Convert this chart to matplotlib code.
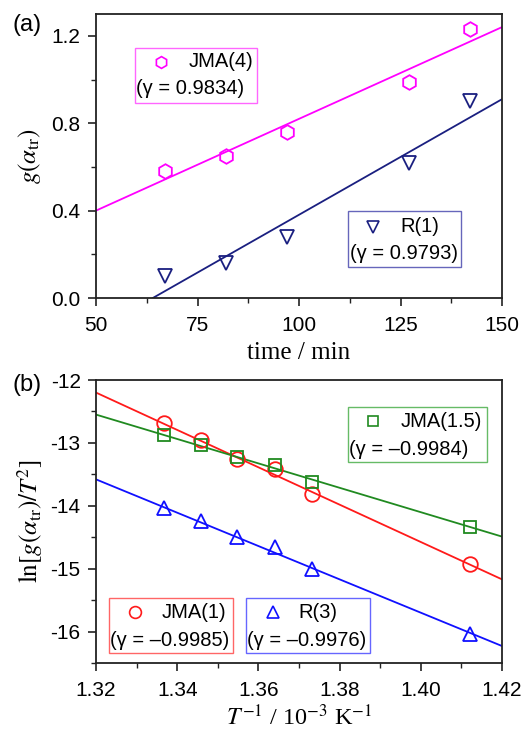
import matplotlib
matplotlib.use("Agg")
import matplotlib.pyplot as plt
from matplotlib.patches import Rectangle
from matplotlib.ticker import MultipleLocator, FormatStrFormatter

plt.rcParams['font.family'] = ['Liberation Sans', 'DejaVu Sans']
plt.rcParams['mathtext.fontset'] = 'stix'
plt.rcParams['axes.unicode_minus'] = False

# ---- Panel (a) data ----
time_min = [67, 82, 97, 127, 142]
jma4 = [0.58, 0.65, 0.76, 0.99, 1.23]
r1 = [0.10, 0.16, 0.28, 0.62, 0.90]
jma4_fit_x = [50, 150]
jma4_fit_y = [0.40, 1.24]
r1_fit_x = [64, 150]
r1_fit_y = [0.0, 0.91]

# ---- Panel (b) data ----
inv_T = [1.3367, 1.3458, 1.3548, 1.3640, 1.3732, 1.4122]
jma1 = [-12.68, -12.95, -13.25, -13.42, -13.82, -14.93]
jma15 = [-12.87, -13.04, -13.22, -13.35, -13.62, -14.33]
r3 = [-14.04, -14.25, -14.50, -14.65, -15.00, -16.04]
fit_x_b = [1.32, 1.42]
jma1_fit_y = [-12.20, -15.17]
jma15_fit_y = [-12.55, -14.49]
r3_fit_y = [-13.58, -16.23]

MAG = '#FF00FF'
NAVY = '#1A1F80'
RED = '#FF1A1A'
GREEN = '#208A20'
BLUE = '#1010FF'

W, H = 521, 732
fig = plt.figure(figsize=(W / 100, H / 100), dpi=100)

def px_axes(l, t, r, b):
    return fig.add_axes([l / W, 1 - b / H, (r - l) / W, (b - t) / H])

axA = px_axes(96, 14, 502, 298)
axB = px_axes(96, 380, 502, 663)

def style(ax):
    for s in ax.spines.values():
        s.set_linewidth(1.3)
        s.set_color('#222222')
    ax.tick_params(which='major', direction='out', length=6, width=1.2,
                   labelsize=15, top=False, right=False, color='#222222', pad=5)
    ax.tick_params(which='minor', direction='out', length=3.5, width=1.0,
                   top=False, right=False, color='#222222')

ms = 10.5
mew = 1.3
lw = 1.3

# Panel (a)
axA.plot(jma4_fit_x, jma4_fit_y, color=MAG, lw=lw)
axA.plot(r1_fit_x, r1_fit_y, color=NAVY, lw=lw)
axA.plot(time_min, jma4, 'h', mfc='none', mec=MAG, ms=ms, mew=mew)
axA.plot(time_min, r1, 'v', mfc='none', mec=NAVY, ms=ms, mew=mew)
axA.set_xlim(50, 150)
axA.set_ylim(0, 1.3)
axA.xaxis.set_major_locator(MultipleLocator(25))
axA.xaxis.set_minor_locator(MultipleLocator(12.5))
axA.yaxis.set_major_locator(MultipleLocator(0.4))
axA.yaxis.set_minor_locator(MultipleLocator(0.2))
axA.yaxis.set_major_formatter(FormatStrFormatter('%.1f'))
style(axA)
axA.tick_params(axis='x', which='major', pad=7)
axA.set_xlabel('time / min', family='Liberation Serif', fontsize=18, labelpad=5)
axA.set_ylabel(r'$g(\alpha_{\rm tr})$', fontsize=18, labelpad=6)

# Panel (b)
axB.plot(fit_x_b, jma1_fit_y, color=RED, lw=lw)
axB.plot(fit_x_b, jma15_fit_y, color=GREEN, lw=lw)
axB.plot(fit_x_b, r3_fit_y, color=BLUE, lw=lw)
axB.plot(inv_T, jma1, 'o', mfc='none', mec=RED, ms=ms, mew=mew)
axB.plot(inv_T, jma15, 's', mfc='none', mec=GREEN, ms=8.5, mew=mew)
axB.plot(inv_T, r3, '^', mfc='none', mec=BLUE, ms=ms, mew=mew)
axB.set_xlim(1.32, 1.42)
axB.set_ylim(-16.5, -12)
axB.xaxis.set_major_locator(MultipleLocator(0.02))
axB.xaxis.set_minor_locator(MultipleLocator(0.01))
axB.xaxis.set_major_formatter(FormatStrFormatter('%.2f'))
axB.yaxis.set_major_locator(MultipleLocator(1))
axB.yaxis.set_minor_locator(MultipleLocator(0.5))
style(axB)
axB.tick_params(axis='x', which='major', pad=7)
axB.set_xlabel(r'$T^{-1}$ / 10$^{-3}$ K$^{-1}$', family='Liberation Serif',
               fontsize=17.5, labelpad=3)
axB.set_ylabel(r'$\ln[g(\alpha_{\rm tr})/T^2]$', fontsize=18, labelpad=4)

def keybox(ax, box, edge, marker, mcolor, mxy, label, lxy, gamma, gxy, mk_ms=8.5):
    x0, y0, x1, y1 = box
    ax.add_patch(Rectangle((x0, y0), x1 - x0, y1 - y0, transform=ax.transAxes,
                           fill=False, ec=edge, lw=1.0, clip_on=False, zorder=5))
    ax.plot([mxy[0]], [mxy[1]], marker, mfc='none', mec=mcolor, ms=mk_ms,
            mew=1.2, transform=ax.transAxes, clip_on=False, zorder=6)
    ax.text(lxy[0], lxy[1], label, transform=ax.transAxes, fontsize=14.5,
            va='center', ha='left', zorder=6)
    ax.text(gxy[0], gxy[1], gamma, transform=ax.transAxes, fontsize=14.5,
            va='center', ha='left', zorder=6)

keybox(axA, (0.096, 0.687, 0.397, 0.880), '#FF66FF', 'h', MAG, (0.160, 0.831),
       'JMA(4)', (0.228, 0.831), '(\u03b3 = 0.9834)', (0.098, 0.736))
keybox(axA, (0.621, 0.109, 0.899, 0.306), '#6666BB', 'v', NAVY, (0.682, 0.250),
       'R(1)', (0.750, 0.250), '(\u03b3 = 0.9793)', (0.625, 0.158))

keybox(axB, (0.621, 0.710, 0.963, 0.905), '#66BB66', 's', GREEN, (0.682, 0.855),
       'JMA(1.5)', (0.750, 0.855), '(\u03b3 = \u20130.9984)', (0.623, 0.756), mk_ms=7.5)
keybox(axB, (0.032, 0.035, 0.337, 0.230), '#FF6666', 'o', RED, (0.096, 0.180),
       'JMA(1)', (0.162, 0.180), '(\u03b3 = \u20130.9985)', (0.034, 0.081))
keybox(axB, (0.369, 0.035, 0.675, 0.230), '#6666FF', '^', BLUE, (0.436, 0.180),
       'R(3)', (0.498, 0.180), '(\u03b3 = \u20130.9976)', (0.371, 0.081))

fig.text(12 / W, 1 - 25 / H, '(a)', fontsize=17, va='center', ha='left')
fig.text(12 / W, 1 - 385 / H, '(b)', fontsize=17, va='center', ha='left')

fig.savefig('out.png', dpi=100)
